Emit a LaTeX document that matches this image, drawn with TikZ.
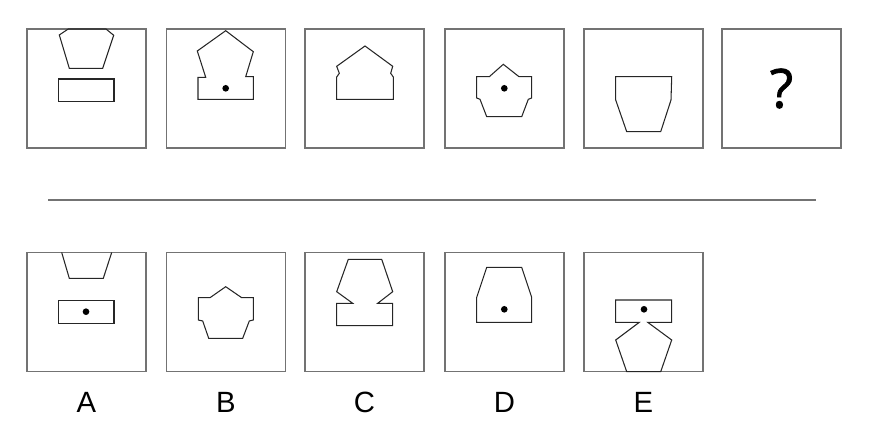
\documentclass[tikz,border=0pt]{standalone}
\usepackage{fontspec}
\setmainfont{Liberation Sans}
\newfontfamily\qfont[FakeBold=1.5]{Open Sans}
\usetikzlibrary{positioning}

\begin{document}
\begin{tikzpicture}[x=0.03cm, y=-0.03cm,
        panel/.style={rectangle, draw=black!55, line width=0.9pt, minimum size=3.57cm, inner sep=0pt},
        fig/.style={draw=black!85, line width=0.9pt},
        dot/.style={circle, fill=black, inner sep=0pt, minimum size=0.2cm},
        lbl/.style={font=\fontsize{25}{28}\selectfont, inner sep=0pt}
    ]
        \useasboundingbox (0,0) rectangle (871,427);

        % question row
        \node[panel] (q1) at (86.5,88.5) {};
        \node[panel] (q2) at (226,88.5) {};
        \node[panel] (q3) at (364.5,88.5) {};
        \node[panel] (q4) at (504.5,88.5) {};
        \node[panel] (q5) at (643.5,88.5) {};
        \node[panel] (q6) at (781.5,88.5) {\qfont\fontsize{46}{50}\selectfont ?};

        \draw[fig] (59.3,35) -- (68.3,29) -- (106,29) -- (113.7,35.3) -- (102.7,68.3) -- (69.3,68.3) -- cycle;
        \draw[fig] (58.3,79) rectangle (114,101.7);

        \draw[fig] (225.7,30.7) -- (253.3,51.7) -- (245.7,76.7) -- (253.3,76.7) -- (253.3,99.3)
            -- (198,99.3) -- (198,77.3) -- (205.7,77.3) -- (197.3,51) -- cycle;
        \node[dot] (d2) at (225.7,88.3) {};

        \draw[fig] (365,46) -- (392.7,66.3) -- (390.7,73.3) -- (393.3,77) -- (393.3,99.3)
            -- (336.7,99.3) -- (336.7,77) -- (339.3,73.3) -- (336.7,66.3) -- cycle;

        \draw[fig] (503.3,64.3) -- (519,76.7) -- (531.7,76.7) -- (531.7,98) -- (528.3,99.3) -- (521.7,116.7)
            -- (486.7,116.7) -- (480,99.3) -- (476.7,98) -- (476.7,76.7) -- (489.3,76.7) -- cycle;
        \node[dot] (d4) at (504.3,88.3) {};

        \draw[fig] (615.7,76.7) -- (671.7,76.7) -- (671,100) -- (660.7,131.7) -- (626.7,131.7) -- (615.7,100) -- cycle;

        \draw[black!55, line width=0.9pt] (48,200) -- (816,200);

        % answer row
        \node[panel] (a) at (86.5,312) {};
        \node[panel] (b) at (226,312) {};
        \node[panel] (c) at (364.5,312) {};
        \node[panel] (d) at (504.5,312) {};
        \node[panel] (e) at (643.5,312) {};

        \draw[fig] (61.7,252.5) -- (69.3,278.3) -- (103.3,278.3) -- (111.7,252.5);
        \draw[fig] (58.3,300.7) rectangle (114,323.3);
        \node[dot] (da) at (86,311.7) {};

        \draw[fig] (225.7,286.7) -- (241.7,297.7) -- (253.3,297.7) -- (253.3,320) -- (249.3,321)
            -- (242.7,338.3) -- (208.7,338.3) -- (202.7,321) -- (198.3,320) -- (198.3,297.7) -- (210,297.7) -- cycle;

        \draw[fig] (348.3,259.3) -- (381.7,259.3) -- (392.7,291.7) -- (377.7,303.3) -- (392.7,303.3)
            -- (392.7,325.7) -- (336.7,325.7) -- (336.7,303.3) -- (352.7,303.3) -- (336.7,291.7) -- cycle;

        \draw[fig] (486.7,267.3) -- (521.7,267.3) -- (531.7,297.3) -- (531.7,322.3) -- (476.7,322.3)
            -- (476.7,297.3) -- cycle;
        \node[dot] (dd) at (504.3,309.3) {};

        \draw[fig] (615.7,300) -- (671.7,300) -- (671.7,322.3) -- (647.7,322.3) -- (671.7,340)
            -- (660.7,371.7) -- (626.7,371.7) -- (615.7,340) -- (639.3,322.3) -- (615.7,322.3) -- cycle;
        \node[dot] (de) at (644,309.3) {};

        \node[lbl, below=0.6cm of a] (la) {A};
        \node[lbl, below=0.6cm of b] (lb) {B};
        \node[lbl, below=0.6cm of c] (lc) {C};
        \node[lbl, below=0.6cm of d] (ld) {D};
        \node[lbl, below=0.6cm of e] (le) {E};
    \end{tikzpicture}
\end{document}
